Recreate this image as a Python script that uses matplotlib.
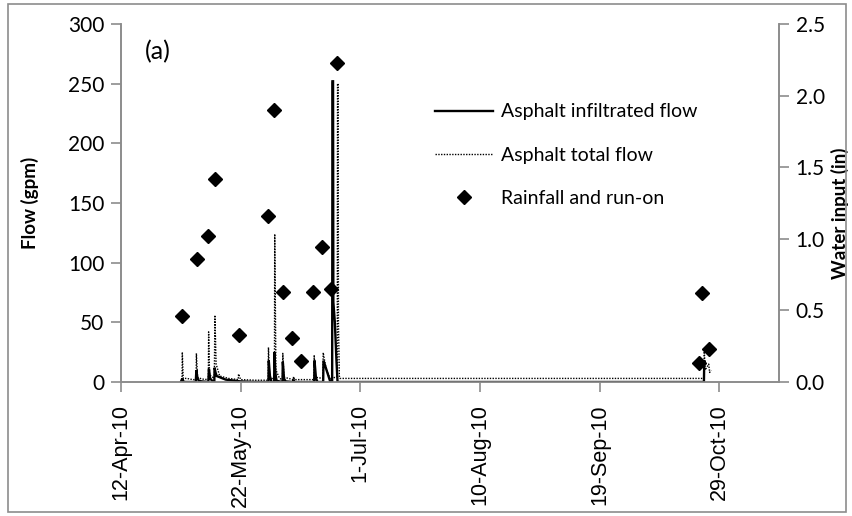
import matplotlib
matplotlib.use("Agg")
import matplotlib.pyplot as plt
import matplotlib.dates as mdates
from matplotlib.ticker import FuncFormatter
from matplotlib.patches import Rectangle
import pandas as pd

START = "2010-04-12"

# Asphalt infiltrated flow (gpm): days after 12-Apr-10, value
infil_day = [20.0, 20.5, 20.8, 21.5, 25.0, 25.2, 25.5, 26.0, 27.0, 29.2, 29.4, 29.8,
             30.5, 31.2, 31.3, 31.6, 32.0, 35.0, 40.0, 45.0, 49.3, 49.4, 49.8, 50.3,
             51.2, 51.3, 51.6, 52.0, 54.0, 54.1, 54.5, 55.0, 57.6, 57.7, 57.9, 64.6,
             64.7, 65.2, 65.7, 67.6, 67.7, 70.0, 70.6, 70.7, 70.9, 71.0, 71.5, 72.0,
             72.4, 120.0, 194.2, 194.9, 195.0, 195.2]
infil_val = [0, 3, 0.5, 0, 0, 10, 4, 1, 0.5, 0, 11, 3,
             1, 0.5, 12, 8, 5, 2, 0.5, 0, 0, 18, 5, 0,
             0, 25, 8, 1, 0, 17, 3, 0.5, 0, 2, 0, 0,
             18, 3, 0, 0, 18, 0, 0, 252, 252, 67, 50, 20,
             0, 0, 0, 0, 17, 17]

# Asphalt total flow (gpm)
total_day = [20.0, 20.4, 20.5, 20.8, 22.0, 24.0, 25.1, 25.2, 25.6, 27.0, 29.2, 29.3,
             29.6, 31.2, 31.4, 31.8, 33.0, 36.0, 39.2, 39.3, 40.0, 45.0, 49.2, 49.3,
             49.7, 51.3, 51.4, 51.8, 53.0, 54.0, 54.1, 54.5, 57.6, 57.7, 58.0, 64.5,
             64.6, 65.0, 67.5, 67.6, 68.5, 70.0, 72.3, 72.4, 72.6, 72.7, 73.0, 73.2,
             150.0, 194.4, 194.9, 195.0, 195.3, 196.5, 196.8, 197.3]
total_val = [0, 1, 25, 3, 3, 2, 2, 24, 4, 2.5, 2, 42,
             6, 3, 56, 15, 5, 3, 2, 6.7, 2, 1.5, 1.5, 29,
             4, 2, 124, 10, 3, 2, 24, 4, 2, 4.5, 2, 2,
             22.6, 4, 3, 24.6, 12, 2, 5, 250, 250, 50, 5, 3,
             3, 3, 3, 28, 10, 15, 8, 10]

# Rainfall and run-on (in)
rain_day = [20.4, 25.3, 29.2, 31.3, 39.3, 49.2, 51.2, 54.1, 57.1, 60.1, 64.1, 67.1,
            70.1, 72.1, 193.2, 194.3, 196.6]
rain_val = [0.46, 0.86, 1.02, 1.42, 0.33, 1.16, 1.90, 0.63, 0.31, 0.15, 0.63, 0.94,
            0.65, 2.23, 0.13, 0.62, 0.23]

x_tick_days = [0, 40, 80, 120, 160, 200]
x_end_day = 220
y_left_ticks = [0, 50, 100, 150, 200, 250, 300]
y_right_ticks = [0.0, 0.5, 1.0, 1.5, 2.0, 2.5]

start = pd.Timestamp(START)
def to_dates(days):
    return [start + pd.Timedelta(days=d) for d in days]

GRAY = "#8c8c8c"
plt.rcParams['font.family'] = ['Lato', 'DejaVu Sans']

fig = plt.figure(figsize=(8.52, 5.16), dpi=100)
ax = fig.add_axes([121/852, 1-382/516, (779-121)/852, (382-24)/516])
ax2 = ax.twinx()

ax.plot(to_dates(infil_day), infil_val, color='black', lw=1.7, solid_joinstyle='miter',
        label='Asphalt infiltrated flow', zorder=3)
ax.plot(to_dates(total_day), total_val, color='black', lw=1.0, linestyle=(0, (1, 1)),
        label='Asphalt total flow', zorder=2)
ax2.plot(to_dates(rain_day), rain_val, linestyle='none', marker='D', markersize=7.5,
         color='black', label='Rainfall and run-on')

ax.set_xlim(start, start + pd.Timedelta(days=x_end_day))
ax.set_ylim(0, 300)
ax2.set_ylim(0, 2.5)
ax.set_xticks(to_dates(x_tick_days))
ax.xaxis.set_major_formatter(FuncFormatter(
    lambda v, p: (lambda d: f"{d.day}-{d.strftime('%b-%y')}")(mdates.num2date(v))))
ax.set_yticks(y_left_ticks)
ax2.set_yticks(y_right_ticks)
ax2.yaxis.set_major_formatter(FuncFormatter(lambda v, p: f"{v:.1f}"))

for a in (ax, ax2):
    for s in a.spines.values():
        s.set_color(GRAY)
        s.set_linewidth(1.2)
    a.spines['top'].set_visible(False)
    a.tick_params(colors=GRAY, length=7, width=1.2, labelcolor='black', labelsize=15)

for lbl in ax.get_xticklabels():
    lbl.set_rotation(90)
    lbl.set_fontfamily('Liberation Sans')
    lbl.set_fontsize(15.5)
ax.tick_params(axis='x', pad=9)
ax.tick_params(axis='y', pad=5)
ax2.tick_params(axis='y', pad=5)

ax.set_ylabel('Flow (gpm)', fontsize=13.5, fontweight='bold')
ax2.set_ylabel('Water input (in)', fontsize=13.5, fontweight='bold')
ax.yaxis.set_label_coords((39-121)/658, 0.5)
ax2.yaxis.set_label_coords((831-121)/658, 0.47)

ax.text(145/852, 1-52/516, '(a)', transform=fig.transFigure, fontsize=18,
        va='center', ha='left')

h1, l1 = ax.get_legend_handles_labels()
h2, l2 = ax2.get_legend_handles_labels()
leg = ax2.legend(h1 + h2, l1 + l2, loc='upper left', bbox_to_anchor=(417/852, 1-86/516),
                 bbox_transform=fig.transFigure, frameon=False, fontsize=14,
                 handlelength=3.0, handletextpad=0.4, labelspacing=1.35)

fig.patches.append(Rectangle((8/852, 4/516), (846-8)/852, (512-4)/516,
                             transform=fig.transFigure, fill=False,
                             edgecolor=GRAY, lw=1.2))

fig.savefig('out.png', dpi=100)
